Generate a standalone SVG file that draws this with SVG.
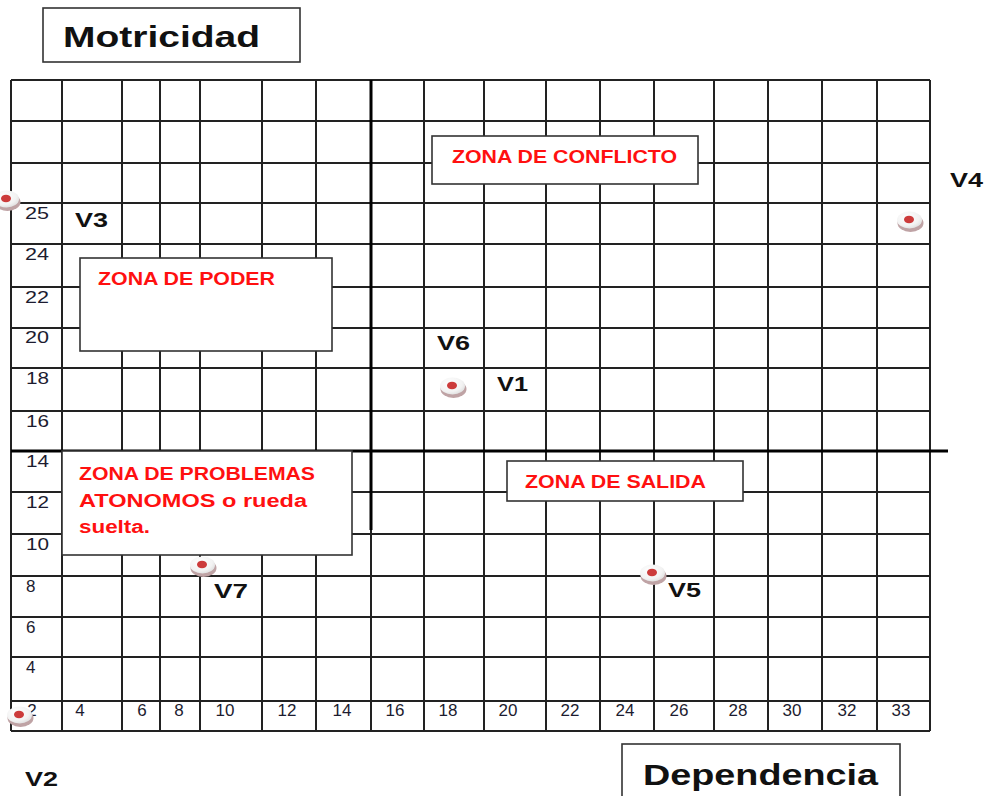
<svg xmlns="http://www.w3.org/2000/svg" xmlns:xlink="http://www.w3.org/1999/xlink" width="987" height="796" viewBox="0 0 987 796">
<style>
.g{stroke:#222;stroke-width:2;fill:none}
.ax{stroke:#000;stroke-width:3;fill:none}
.box{fill:#fff;stroke:#333;stroke-width:1.6}
.zt{font-family:"Liberation Sans",Arial,sans-serif;font-weight:bold;font-size:18px;fill:#ff1010}
.tt{font-family:"Liberation Sans",Arial,sans-serif;font-weight:bold;font-size:30px;fill:#111}
.vl{font-family:"Liberation Sans",Arial,sans-serif;font-weight:bold;font-size:20px;fill:#111}
.n{font-family:"Liberation Sans",Arial,sans-serif;font-size:17px;fill:#1c1c30}
.xn{text-anchor:middle}
</style>
<defs>
<radialGradient id="wg" cx="0.4" cy="0.35" r="0.7">
<stop offset="0" stop-color="#ffffff"/>
<stop offset="0.7" stop-color="#f2f2f2"/>
<stop offset="1" stop-color="#dedede"/>
</radialGradient>
<g id="pt">
<ellipse cx="0.5" cy="3" rx="13" ry="9" fill="#bfa3a5"/>
<ellipse cx="-0.5" cy="0" rx="12.5" ry="8.5" fill="url(#wg)"/>
<ellipse cx="-1" cy="-0.5" rx="5" ry="3.8" fill="#cc3b3b"/>
</g>
</defs>
<rect width="987" height="796" fill="#fff"/>
<g id="grid" class="g">
<path d="M11 80V731M62 80V731M122 80V731M160 80V731M200 80V731M262 80V731M316 80V731M371 80V731M424 80V731M484 80V731M546 80V731M600 80V731M654 80V731M714 80V731M768 80V731M822 80V731M877 80V731M930 80V731"/>
<path d="M11 80H930M11 121H930M11 163H930M11 203H930M11 244H930M11 287H930M11 328H930M11 368H930M11 411H930M11 492H930M11 534H930M11 576H930M11 617H930M11 657H930M11 701H930M11 731H930"/>
</g>
<g id="connectors">
<path class="ax" d="M371 80V530"/>
<path class="ax" d="M11 451H948"/>
</g>
<g id="motricidad">
<rect class="box" x="43" y="8" width="257" height="54"/>
<text class="tt" x="63" y="47" textLength="197" lengthAdjust="spacingAndGlyphs">Motricidad</text>
</g>
<g id="dependencia">
<rect class="box" x="622" y="744" width="278" height="60"/>
<text class="tt" x="643" y="785" textLength="235" lengthAdjust="spacingAndGlyphs">Dependencia</text>
</g>
<g id="zona-conflicto">
<rect class="box" x="432" y="136" width="266" height="48"/>
<text class="zt" x="452" y="163" textLength="225" lengthAdjust="spacingAndGlyphs">ZONA DE CONFLICTO</text>
</g>
<g id="zona-poder">
<rect class="box" x="80" y="258" width="252" height="93"/>
<text class="zt" x="98" y="285" textLength="177" lengthAdjust="spacingAndGlyphs">ZONA DE PODER</text>
</g>
<g id="zona-problemas">
<rect class="box" x="62" y="451" width="290" height="104"/>
<text class="zt" x="79" y="480" textLength="236" lengthAdjust="spacingAndGlyphs">ZONA DE PROBLEMAS</text>
<text class="zt" x="79" y="507" textLength="228" lengthAdjust="spacingAndGlyphs">ATONOMOS  o rueda</text>
<text class="zt" x="79" y="533" textLength="71" lengthAdjust="spacingAndGlyphs">suelta.</text>
</g>
<g id="zona-salida">
<rect class="box" x="507" y="461" width="236" height="40"/>
<text class="zt" x="525" y="488" textLength="181" lengthAdjust="spacingAndGlyphs">ZONA DE SALIDA</text>
</g>
<g id="y-axis" class="n">
<text x="25" y="219" textLength="24" lengthAdjust="spacingAndGlyphs">25</text>
<text x="25" y="260" textLength="24" lengthAdjust="spacingAndGlyphs">24</text>
<text x="25" y="303" textLength="24" lengthAdjust="spacingAndGlyphs">22</text>
<text x="25" y="343" textLength="24" lengthAdjust="spacingAndGlyphs">20</text>
<text x="26" y="384" textLength="23" lengthAdjust="spacingAndGlyphs">18</text>
<text x="26" y="427" textLength="23" lengthAdjust="spacingAndGlyphs">16</text>
<text x="26" y="467" textLength="23" lengthAdjust="spacingAndGlyphs">14</text>
<text x="26" y="508" textLength="23" lengthAdjust="spacingAndGlyphs">12</text>
<text x="26" y="550" textLength="23" lengthAdjust="spacingAndGlyphs">10</text>
<text x="26" y="592">8</text>
<text x="26" y="633">6</text>
<text x="26" y="673">4</text>
</g>
<g id="x-axis" class="n xn">
<text x="32" y="716">2</text>
<text x="80" y="716">4</text>
<text x="142" y="716">6</text>
<text x="179" y="716">8</text>
<text x="225" y="716">10</text>
<text x="287" y="716">12</text>
<text x="342" y="716">14</text>
<text x="395" y="716">16</text>
<text x="448" y="716">18</text>
<text x="508" y="716">20</text>
<text x="570" y="716">22</text>
<text x="625" y="716">24</text>
<text x="679" y="716">26</text>
<text x="738" y="716">28</text>
<text x="792" y="716">30</text>
<text x="847" y="716">32</text>
<text x="901" y="716">33</text>
</g>
<g id="V3"><use xlink:href="#pt" x="7" y="199"/><text class="vl" x="75" y="227" textLength="33" lengthAdjust="spacingAndGlyphs">V3</text></g>
<g id="V4"><use xlink:href="#pt" x="910" y="220"/><text class="vl" x="950" y="187" textLength="33" lengthAdjust="spacingAndGlyphs">V4</text></g>
<g id="V6"><text class="vl" x="437" y="350" textLength="33" lengthAdjust="spacingAndGlyphs">V6</text></g>
<g id="V1"><use xlink:href="#pt" x="453" y="386"/><text class="vl" x="497" y="391" textLength="31" lengthAdjust="spacingAndGlyphs">V1</text></g>
<g id="V7"><use xlink:href="#pt" x="203" y="565"/><text class="vl" x="214" y="598" textLength="34" lengthAdjust="spacingAndGlyphs">V7</text></g>
<g id="V5"><use xlink:href="#pt" x="653" y="573"/><text class="vl" x="668" y="597" textLength="33" lengthAdjust="spacingAndGlyphs">V5</text></g>
<g id="V2"><use xlink:href="#pt" x="20" y="715"/><text class="vl" x="25" y="786" textLength="33" lengthAdjust="spacingAndGlyphs">V2</text></g>
</svg>
